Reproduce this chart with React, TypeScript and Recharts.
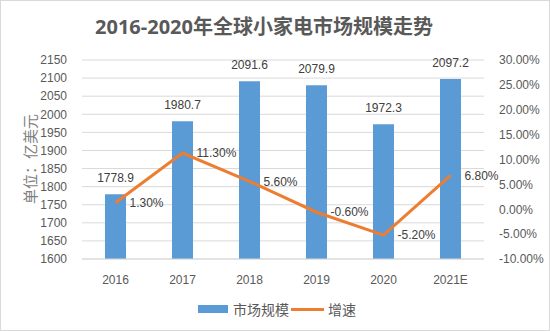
import React from "react";
import { ComposedChart, Bar, Line, XAxis, YAxis, CartesianGrid, LabelList } from "recharts";

const categories = ["2016", "2017", "2018", "2019", "2020", "2021E"];
const marketSize = [1778.9, 1980.7, 2091.6, 2079.9, 1972.3, 2097.2];
const growth = [1.3, 11.3, 5.6, -0.6, -5.2, 6.8];
const leftTicks = [1600, 1650, 1700, 1750, 1800, 1850, 1900, 1950, 2000, 2050, 2100, 2150];
const rightTicks = [-10, -5, 0, 5, 10, 15, 20, 25, 30];

const data = categories.map((c, i) => ({ name: c, size: marketSize[i], growth: growth[i] }));

const FONT = "'Liberation Sans', 'Noto Sans CJK SC', sans-serif";
const CJK = "'Noto Sans CJK SC', sans-serif";

export default function App() {
  return (
    <div style={{ position: "absolute", left: 0, top: 0, width: 550, height: 331, background: "#fff", boxSizing: "border-box", border: "1px solid #d9d9d9", fontFamily: FONT }}>
      <div style={{ position: "absolute", left: 0, top: 0, width: 550, height: 331 }}>
        <ComposedChart width={550} height={331} data={data} margin={{ top: 59, right: 0, bottom: 43, left: 0 }}>
          <CartesianGrid yAxisId="left" vertical={false} stroke="#d9d9d9" />
          <XAxis dataKey="name" tickLine={false} axisLine={{ stroke: "#d9d9d9" }} height={30} tick={{ fill: "#595959", fontSize: 12, fontFamily: FONT }} tickMargin={10} />
          <YAxis
            yAxisId="left"
            width={81}
            domain={[1600, 2150]}
            ticks={leftTicks}
            interval={0}
            tickLine={false}
            axisLine={false}
            tick={{ fill: "#595959", fontSize: 12, fontFamily: FONT }}
            tickMargin={9}
            label={{
              content: () => (
                <text x={28} y={158} transform="rotate(-90 28 158)" textAnchor="middle" dominantBaseline="central" fill="#7f7f7f" fontSize={15} fontFamily={CJK}>
                  单位：亿美元
                </text>
              ),
            }}
          />
          <YAxis
            yAxisId="right"
            orientation="right"
            width={67}
            domain={[-10, 30]}
            ticks={rightTicks}
            interval={0}
            tickLine={false}
            axisLine={false}
            tickFormatter={(v: number) => v.toFixed(2) + "%"}
            tick={{ fill: "#595959", fontSize: 12, fontFamily: FONT }}
            tickMargin={9}
          />
          <Bar yAxisId="left" dataKey="size" fill="#5b9bd5" barSize={21} isAnimationActive={false}>
            <LabelList dataKey="size" position="top" offset={12} fill="#404040" fontSize={12} fontFamily={FONT} formatter={(v: number) => v.toFixed(1)} />
          </Bar>
          <Line yAxisId="right" dataKey="growth" stroke="#ed7d31" strokeWidth={3} dot={false} isAnimationActive={false}>
            <LabelList dataKey="growth" position="right" offset={14} fill="#404040" fontSize={12} fontFamily={FONT} formatter={(v: number) => v.toFixed(2) + "%"} />
          </Line>
        </ComposedChart>
      </div>
      <div style={{ position: "absolute", left: 0, top: 10, width: 526, textAlign: "center", fontSize: 20, fontWeight: "bold", color: "#595959", fontFamily: "'Noto Sans', 'Noto Sans CJK SC', sans-serif", whiteSpace: "nowrap" }}>
        2016-2020年全球小家电市场规模走势
      </div>
      <div style={{ position: "absolute", left: 197, top: 298, height: 20, display: "flex", alignItems: "center", fontSize: 14, color: "#595959", fontFamily: CJK, whiteSpace: "nowrap" }}>
        <span style={{ display: "inline-block", width: 30, height: 8, background: "#5b9bd5", marginRight: 5 }} />
        <span>市场规模</span>
        <span style={{ display: "inline-block", width: 33, height: 3, background: "#ed7d31", margin: "0 4px 0 2px" }} />
        <span>增速</span>
      </div>
    </div>
  );
}
